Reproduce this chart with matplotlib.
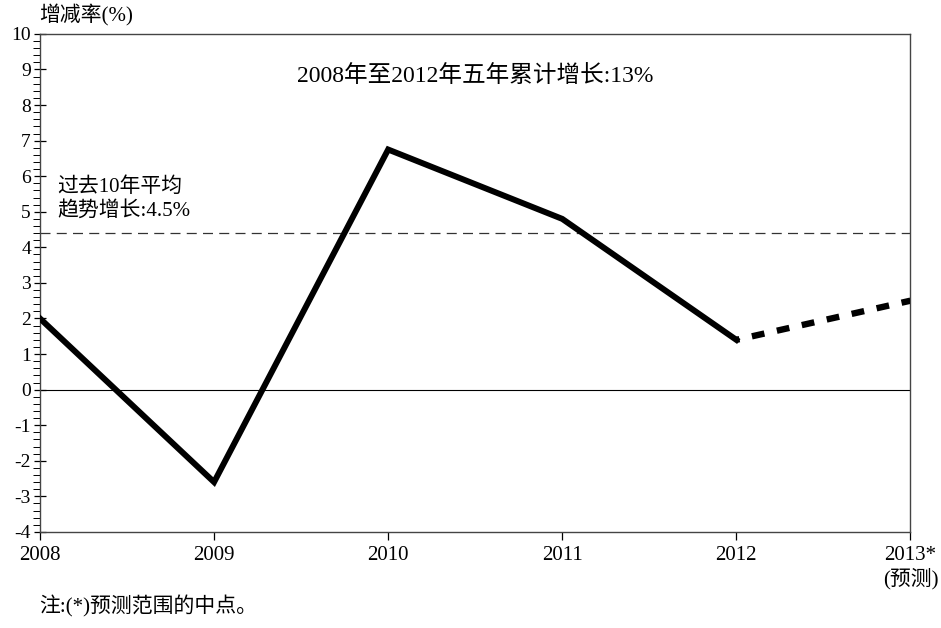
import matplotlib
matplotlib.use("Agg")
import matplotlib.pyplot as plt
from matplotlib.ticker import MultipleLocator

plt.rcParams['font.family'] = ['Liberation Serif', 'Noto Sans CJK SC', 'DejaVu Sans']

years = [2008, 2009, 2010, 2011, 2012]
growth = [2.0, -2.6, 6.75, 4.8, 1.4]
forecast_years = [2012, 2013]
forecast = [1.4, 2.5]
trend_avg = 4.4
xtick_labels = ["2008", "2009", "2010", "2011", "2012", "2013*\n(预测)"]
yticks = list(range(-4, 11))

fig = plt.figure(figsize=(9.41, 6.28), dpi=100)
ax = fig.add_axes([0.0425, 0.153, 0.925, 0.793])

ax.plot(years, growth, color='black', lw=4.3, solid_joinstyle='miter', zorder=3)
ax.plot(forecast_years, forecast, color='black', lw=4.6, linestyle=(1.5, (2.0, 2.0)),
        dash_capstyle='butt', zorder=3)
ax.axhline(0, color='black', lw=0.8)
ax.axhline(trend_avg, color='#333333', lw=0.9, linestyle=(0, (8, 5)))

ax.set_xlim(2008, 2013)
ax.set_ylim(-4, 10)
ax.set_xticks(list(range(2008, 2014)))
ax.set_xticklabels(xtick_labels, fontsize=15)
ax.set_yticks(yticks)
ax.set_yticklabels([str(v) for v in yticks], fontsize=14)
ax.yaxis.set_minor_locator(MultipleLocator(0.2))
ax.tick_params(axis='y', which='major', direction='inout', length=9, width=0.9, pad=2)
ax.tick_params(axis='y', which='minor', direction='out', length=5, width=0.7)
ax.tick_params(axis='x', which='major', direction='out', length=6, width=0.9, pad=4)
for s in ax.spines.values():
    s.set_linewidth(1.0)
    s.set_color('#444444')

ax.text(0.5, 0.915, "2008年至2012年五年累计增长:13%", transform=ax.transAxes,
        ha='center', va='center', fontsize=17)
ax.text(2008.1, 5.35, "过去10年平均\n趋势增长:4.5%", ha='left', va='center',
        fontsize=15, linespacing=1.25)
fig.text(0.042, 0.975, "增减率(%)", ha='left', va='center', fontsize=15)
fig.text(0.042, 0.035, "注:(*)预测范围的中点。", ha='left', va='center', fontsize=15)

fig.savefig("out.png", dpi=100)
